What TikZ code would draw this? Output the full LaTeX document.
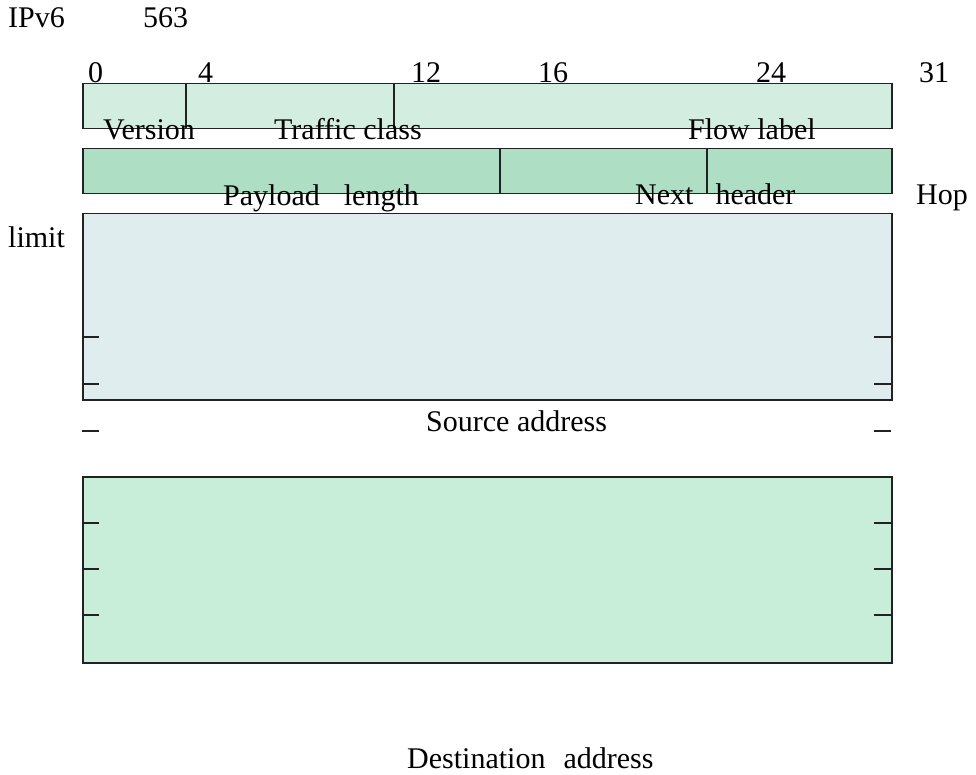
\documentclass[tikz,border=0pt]{standalone}
\usepackage{fontspec}
\setmainfont{Liberation Serif}
\definecolor{rowone}{HTML}{D4EDE1}
\definecolor{rowtwo}{HTML}{AEDFC5}
\definecolor{srcfill}{HTML}{DFEDEE}
\definecolor{dstfill}{HTML}{C8EED9}
\definecolor{edge}{HTML}{222222}
\begin{document}
\begin{tikzpicture}[x=1pt,y=-1pt,
  fieldbox/.style={draw=edge, line width=1.5pt, inner sep=0pt, anchor=north west, minimum width=809pt},
  divline/.style={draw=edge, line width=1.2pt},
  tickline/.style={draw=edge, line width=1.3pt},
  lbl/.style={anchor=base west, inner sep=0pt, font=\fontsize{30}{36}\selectfont}]
\useasboundingbox (0,0) rectangle (976,775);
% boxes
\node[fieldbox, fill=rowone, minimum height=45pt] (row1) at (82,83) {};
\node[fieldbox, fill=rowtwo, minimum height=45pt] (row2) at (82,148) {};
\node[fieldbox, fill=srcfill, minimum height=186pt] (src) at (82,213) {};
\node[fieldbox, fill=dstfill, minimum height=186pt] (dst) at (82,476) {};
% dividers
\draw[divline] (186,83) -- (186,128);
\draw[divline] (394,83) -- (394,128);
\draw[divline] (500,148) -- (500,193);
\draw[divline] (707,148) -- (707,193);
% ticks source
\foreach \yy in {337,384,431} {
  \draw[tickline] (82,\yy) -- (99,\yy);
  \draw[tickline] (874,\yy) -- (891,\yy);
}
% ticks destination
\foreach \yy in {523,569,615} {
  \draw[tickline] (82,\yy) -- (99,\yy);
  \draw[tickline] (874,\yy) -- (891,\yy);
}
% texts
\node[lbl] (t-ipv6) at (8,28) {IPv6};
\node[lbl] (t-563) at (143,28) {563};
\node[lbl] (b0) at (88,83) {0};
\node[lbl] (b4) at (198,83) {4};
\node[lbl] (b12) at (411,83) {12};
\node[lbl] (b16) at (538,83) {16};
\node[lbl] (b24) at (756,83) {24};
\node[lbl] (b31) at (919,83) {31};
\node[lbl] (version) at (103,140) {Version};
\node[lbl] (traffic) at (274,140) {Traffic class};
\node[lbl] (flow) at (688,140) {Flow label};
\node[lbl] (payload) at (223,206) {Payload\hspace{24pt}length};
\node[lbl] (next) at (635,205) {Next\hspace{22pt}header};
\node[lbl] (hop) at (916,205) {Hop};
\node[lbl] (limit) at (8,248) {limit};
\node[lbl] (source) at (426,431) {Source address};
\node[lbl] (dest) at (407,768) {Destination\hspace{18pt}address};
\end{tikzpicture}
\end{document}
